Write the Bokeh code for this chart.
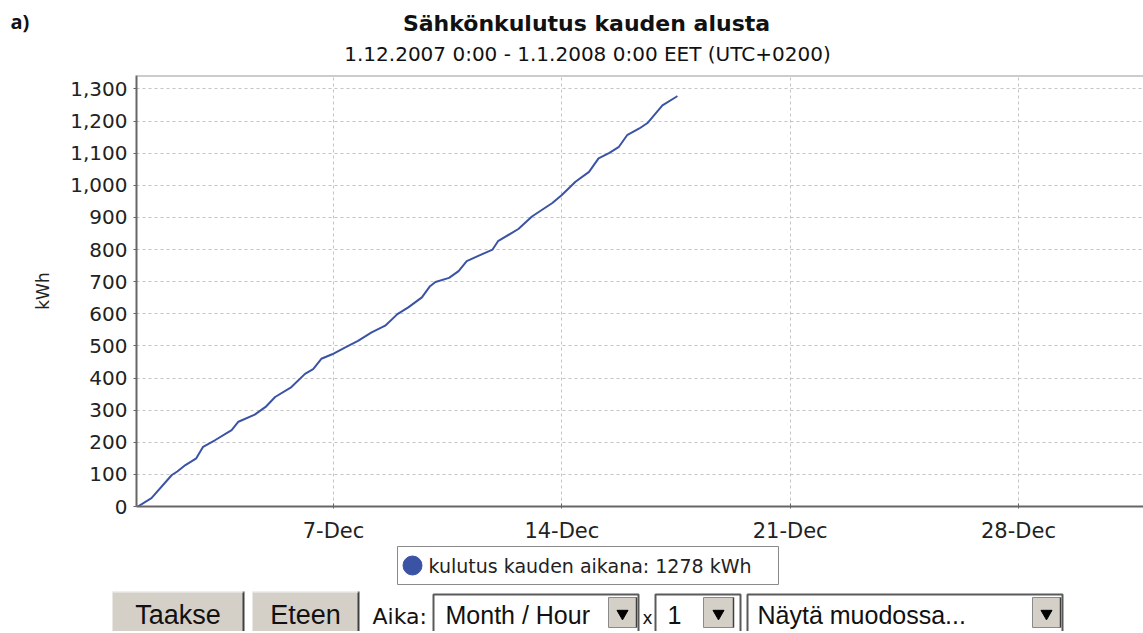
import pandas as pd
from bokeh.plotting import figure
from bokeh.layouts import column
from bokeh.models import Range1d, FixedTicker, NumeralTickFormatter, Span, ColumnDataSource
from bokeh.core.properties import value
from bokeh.embed import file_html
from bokeh.resources import INLINE

# ---------------- data ----------------
panel_tag = "a)"
title_text = "Sähkönkulutus kauden alusta"
subtitle_text = "1.12.2007 0:00 - 1.1.2008 0:00 EET (UTC+0200)"
y_label = "kWh"

times = [
    "2007-12-01 00:00", "2007-12-01 10:00", "2007-12-02 01:00", "2007-12-02 05:00",
    "2007-12-02 11:00", "2007-12-02 19:00", "2007-12-03 00:00", "2007-12-03 09:00",
    "2007-12-03 21:00", "2007-12-04 02:00", "2007-12-04 14:00", "2007-12-04 22:00",
    "2007-12-05 05:00", "2007-12-05 17:00", "2007-12-06 03:00", "2007-12-06 09:00",
    "2007-12-06 15:00", "2007-12-06 23:00", "2007-12-07 09:00", "2007-12-07 18:00",
    "2007-12-08 04:00", "2007-12-08 14:00", "2007-12-08 23:00", "2007-12-09 07:00",
    "2007-12-09 17:00", "2007-12-09 23:00", "2007-12-10 03:00", "2007-12-10 13:00",
    "2007-12-10 20:00", "2007-12-11 02:00", "2007-12-11 13:00", "2007-12-11 21:00",
    "2007-12-12 01:00", "2007-12-12 16:00", "2007-12-13 02:00", "2007-12-13 17:00",
    "2007-12-14 00:00", "2007-12-14 10:00", "2007-12-14 20:00", "2007-12-15 03:00",
    "2007-12-15 11:00", "2007-12-15 18:00", "2007-12-16 00:00", "2007-12-16 09:00",
    "2007-12-16 15:00", "2007-12-17 02:00", "2007-12-17 12:00", "2007-12-17 13:00",
]
kwh = [
    0, 26, 98, 109,
    129, 150, 186, 207,
    238, 264, 286, 310,
    341, 372, 413, 428,
    460, 474, 496, 516,
    542, 563, 599, 620,
    651, 686, 699, 712,
    733, 764, 785, 800,
    826, 864, 903, 945,
    970, 1011, 1042, 1084,
    1101, 1120, 1156, 1177,
    1194, 1249, 1275, 1278,
]

x_tick_dates = ["2007-12-07", "2007-12-14", "2007-12-21", "2007-12-28"]
x_tick_labels = ["7-Dec", "14-Dec", "21-Dec", "28-Dec"]
y_ticks = [0, 100, 200, 300, 400, 500, 600, 700, 800, 900, 1000, 1100, 1200, 1300]
x_start = "2007-11-30 23:00"
x_end = "2007-12-31 20:00"
y_top = 1342

series_label = "kulutus kauden aikana"
unit = "kWh"
button_labels = ["Taakse", "Eteen"]
control_label = "Aika:"
multiplier_label = "x"
select_values = ["Month / Hour", "1", "Näytä muodossa..."]

# ---------------- styles ----------------
LINE_COLOR = "#3b53a4"
GRID_COLOR = "#c4c4c4"
FONT = "DejaVu Sans"
UI_FONT = "Liberation Sans"
W = 1143

def ms(d):
    return int(pd.Timestamp(d).value // 10**6)

def blank(h):
    fig = figure(width=W, height=h, x_range=Range1d(0, W), y_range=Range1d(h, 0),
                 toolbar_location=None, output_backend="svg", min_border=0)
    fig.axis.visible = False
    fig.grid.visible = False
    fig.outline_line_color = None
    fig.frame_align = False
    return fig

# ---------------- header (page y 0..73) ----------------
head_h = 73
head = blank(head_h)
head.text(x=[10], y=[21], text=[panel_tag], text_font=value("Open Sans"), text_font_size="20px",
          text_font_style="bold", text_align="left", text_baseline="middle", text_color="#111111")
head.text(x=[586], y=[23], text=[title_text], text_font=value(FONT), text_font_size="22px",
          text_font_style="bold", text_align="center", text_baseline="middle", text_color="#111111")
head.text(x=[587], y=[53], text=[subtitle_text], text_font=value(FONT), text_font_size="20px",
          text_align="center", text_baseline="middle", text_color="#111111")

# ---------------- main chart (page y 73..547) ----------------
src = ColumnDataSource(dict(t=pd.to_datetime(times), v=kwh))
p = figure(width=W, height=472, x_axis_type="datetime",
           x_range=Range1d(pd.Timestamp(x_start), pd.Timestamp(x_end)),
           y_range=Range1d(0, y_top),
           toolbar_location=None, output_backend="svg",
           min_border_left=136, min_border_right=0, min_border_top=2, min_border_bottom=36)
p.frame_align = False
p.outline_line_color = None
p.line("t", "v", source=src, line_color=LINE_COLOR, line_width=2)

p.xaxis.ticker = FixedTicker(ticks=[ms(d) for d in x_tick_dates])
p.xaxis.major_label_overrides = {ms(d): lab for d, lab in zip(x_tick_dates, x_tick_labels)}
p.yaxis.ticker = FixedTicker(ticks=y_ticks)
p.yaxis.formatter = NumeralTickFormatter(format="0,0")
p.xaxis.minor_tick_line_color = None
p.yaxis.minor_tick_line_color = None

for ax in (p.xaxis, p.yaxis):
    ax.axis_line_color = "#666666"
    ax.axis_line_width = 2
    ax.major_tick_line_color = "#666666"
    ax.major_label_text_font = FONT
    ax.major_label_text_font_size = "20px"
    ax.major_label_text_color = "#222222"
p.xaxis.major_label_text_font_size = "21px"
p.yaxis.major_tick_in = 0
p.yaxis.major_tick_out = 3
p.yaxis.major_label_standoff = 6
p.xaxis.major_tick_in = 3
p.xaxis.major_tick_out = 2
p.xaxis.major_label_standoff = 10

p.yaxis.axis_label = y_label
p.yaxis.axis_label_text_font = FONT
p.yaxis.axis_label_text_font_size = "17px"
p.yaxis.axis_label_text_font_style = "normal"
p.yaxis.axis_label_text_color = "#222222"
p.yaxis.axis_label_standoff = 14

p.grid.grid_line_color = GRID_COLOR
p.grid.grid_line_dash = "3 3"
p.grid.grid_line_width = 1
p.add_layout(Span(location=y_top, dimension="width", line_color="#999999", line_width=2))

# ---------------- footer: legend + controls (page y 547..633) ----------------
foot_top = 547
foot_h = 633 - foot_top
f = blank(foot_h)

def fy(page_y):
    return page_y - foot_top

# legend
f.quad(left=[397], right=[778], top=[fy(548)], bottom=[fy(586)], fill_color="white",
       line_color="#8a8a8a", line_width=1)
f.scatter(x=[412], y=[fy(567)], size=19, marker="circle", fill_color=LINE_COLOR, line_color=LINE_COLOR)
f.text(x=[428], y=[fy(567)], text=[f"{series_label}: {kwh[-1]} {unit}"], text_font=value(FONT),
       text_font_size="19px", text_align="left", text_baseline="middle", text_color="#222222")

# buttons
btn_l = [112, 252]
btn_r = [243, 358]
f.quad(left=btn_l, right=btn_r, top=[fy(593)] * 2, bottom=[fy(640)] * 2, fill_color="#d4d0c8", line_color=None)
f.segment(x0=btn_r, y0=[fy(593)] * 2, x1=btn_r, y1=[fy(640)] * 2, line_color="#404040", line_width=2)
f.segment(x0=btn_l, y0=[fy(593.5)] * 2, x1=btn_r, y1=[fy(593.5)] * 2, line_color="#f4f4f4", line_width=1)
f.text(x=[(a + b) / 2 for a, b in zip(btn_l, btn_r)], y=[fy(616)] * 2, text=button_labels,
       text_font=value(UI_FONT), text_font_size="27px", text_align="center",
       text_baseline="middle", text_color="#111111")
f.text(x=[372], y=[fy(618)], text=[control_label], text_font=value(FONT), text_font_size="22px",
       text_align="left", text_baseline="middle", text_color="#111111")
f.text(x=[647], y=[fy(619)], text=[multiplier_label], text_font=value(FONT), text_font_size="17px",
       text_align="center", text_baseline="middle", text_color="#111111")

# selects
sel_l = [433, 655, 747]
sel_r = [638, 740, 1062]
dd_l = [608, 703, 1032]
dd_r = [636, 733, 1060]
f.quad(left=sel_l, right=sel_r, top=[fy(596)] * 3, bottom=[fy(645)] * 3, fill_color="white",
       line_color="#5a5a5a", line_width=2)
f.quad(left=dd_l, right=dd_r, top=[fy(599)] * 3, bottom=[fy(629)] * 3, fill_color="#d4d0c8",
       line_color="#8a8a8a", line_width=1)
f.segment(x0=dd_r, y0=[fy(599)] * 3, x1=dd_r, y1=[fy(629)] * 3, line_color="#404040", line_width=1.5)
f.scatter(x=[(a + b) / 2 for a, b in zip(dd_l, dd_r)], y=[fy(615)] * 3, marker="inverted_triangle",
          size=11, fill_color="black", line_color="black")
f.text(x=[445, 667, 757], y=[fy(616)] * 3, text=select_values, text_font=value(UI_FONT),
       text_font_size="25px", text_align="left", text_baseline="middle", text_color="#111111")

layout = column(head, p, f)
open("out.html", "w").write(file_html(layout, INLINE))
